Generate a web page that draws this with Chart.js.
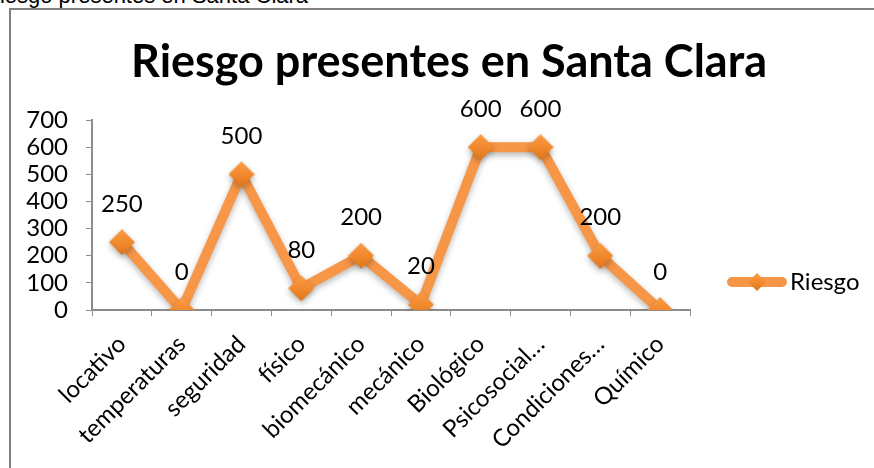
<!DOCTYPE html>
<html>
<head>
<meta charset="utf-8">
<script src="https://cdn.jsdelivr.net/npm/chart.js@4"></script>
<style>
  body { margin: 0; width: 874px; height: 468px; overflow: hidden; background: #fff; position: relative; }
  #caption { position: absolute; left: -16px; top: -15px; font-family: "Liberation Sans", Arial, sans-serif; font-size: 22px; line-height: 22px; white-space: nowrap; color: #000; }
  #frame { position: absolute; left: 9px; top: 8px; width: 900px; height: 500px; border-left: 2px solid #7f7f7f; border-top: 2px solid #7f7f7f; }
  #wrap { position: absolute; left: 11px; top: 10px; }
</style>
</head>
<body>
<div id="caption">Riesgo presentes en Santa Clara</div>
<div id="frame"></div>
<div id="wrap"><canvas id="lchart" width="876" height="458"></canvas></div>
<script>
// risk categories and counts
const categorias = ["locativo", "temperaturas", "seguridad", "físico", "biomecánico",
    "mecánico", "Biológico", "Psicosocial…", "Condiciones…", "Químico"];
const riesgo = [250, 0, 500, 80, 200, 20, 600, 600, 200, 0];
const yTicks = [0, 100, 200, 300, 400, 500, 600, 700];
const titulo = 'Riesgo presentes en Santa Clara';

const naranja = '#F79646';
const fuente = 'Lato, "Open Sans", sans-serif';

// shaded diamond used as the marker
function makeDiamond(r) {
    const c = document.createElement('canvas');
    c.width = c.height = 2 * r;
    const g = c.getContext('2d');
    const grad = g.createLinearGradient(0, 0, 0, 2 * r);
    grad.addColorStop(0, '#FA9C48');
    grad.addColorStop(0.5, '#F28A2E');
    grad.addColorStop(1, '#DD741C');
    g.fillStyle = grad;
    g.beginPath();
    g.moveTo(r, 0);
    g.lineTo(2 * r, r);
    g.lineTo(r, 2 * r);
    g.lineTo(0, r);
    g.closePath();
    g.fill();
    return c;
}
const diamante = makeDiamond(13);
const diamanteChico = makeDiamond(9);

// soft shadow under the line and markers
const sombra = {
    id: 'sombra',
    beforeDatasetsDraw(chart) {
        const ctx = chart.ctx;
        ctx.save();
        ctx.shadowColor = 'rgba(0,0,0,0.28)';
        ctx.shadowBlur = 6;
        ctx.shadowOffsetY = 3;
    },
    afterDatasetsDraw(chart) {
        chart.ctx.restore();
    }
};

// big title centered over the whole canvas (legend column included)
const bigTitle = {
    id: 'bigTitle',
    afterDraw(chart) {
        const ctx = chart.ctx;
        ctx.save();
        ctx.font = 'bold 45px ' + fuente;
        ctx.fillStyle = '#000';
        ctx.textAlign = 'center';
        ctx.textBaseline = 'middle';
        ctx.fillText(titulo, chart.width / 2, 52);
        ctx.restore();
    }
};

// value above every point
const pointLabels = {
    id: 'pointLabels',
    afterDatasetsDraw(chart) {
        const ctx = chart.ctx;
        const meta = chart.getDatasetMeta(0);
        ctx.save();
        ctx.font = '24px ' + fuente;
        ctx.fillStyle = '#000';
        ctx.textAlign = 'center';
        ctx.textBaseline = 'middle';
        meta.data.forEach((pt, i) => {
            ctx.fillText(String(riesgo[i]), pt.x, pt.y - 38);
        });
        ctx.restore();
    }
};

// legend on the right: line + diamond + series name
const lineLegend = {
    id: 'lineLegend',
    afterDraw(chart) {
        const ctx = chart.ctx;
        const x0 = chart.chartArea.right + 37, x1 = x0 + 60, y = 272;
        ctx.save();
        ctx.strokeStyle = naranja;
        ctx.lineWidth = 10;
        ctx.lineCap = 'round';
        ctx.beginPath();
        ctx.moveTo(x0 + 5, y);
        ctx.lineTo(x1 - 5, y);
        ctx.stroke();
        const cx = (x0 + x1) / 2;
        ctx.drawImage(diamanteChico, cx - 9, y - 9);
        ctx.font = '24px ' + fuente;
        ctx.fillStyle = '#000';
        ctx.textBaseline = 'middle';
        ctx.fillText('Riesgo', x1 + 3, y);
        ctx.restore();
    }
};

new Chart(document.getElementById('lchart'), {
    type: 'line',
    data: {
        labels: categorias,
        datasets: [{
            label: 'Riesgo',
            data: riesgo,
            borderColor: naranja,
            borderWidth: 10,
            borderJoinStyle: 'round',
            tension: 0,
            pointStyle: diamante,
            pointRadius: 13
        }]
    },
    options: {
        responsive: false,
        animation: false,
        layout: { padding: { left: 0, right: 197, top: 110, bottom: 0 } },
        plugins: {
            legend: { display: false },
            tooltip: { enabled: false },
            title: { display: false }
        },
        scales: {
            x: {
                offset: true,
                grid: { offset: true, drawOnChartArea: false, tickLength: 6, color: '#8c8c8c' },
                border: { color: '#8c8c8c', width: 2 },
                ticks: {
                    autoSkip: false, maxRotation: 45, minRotation: 45,
                    color: '#000', padding: 14,
                    font: { family: fuente, size: 24 }
                },
                afterFit(scale) { scale.height = 158; }
            },
            y: {
                min: 0, max: 700,
                afterBuildTicks(scale) { scale.ticks = yTicks.map(v => ({ value: v })); },
                grid: { drawOnChartArea: false, tickLength: 6, color: '#8c8c8c' },
                border: { color: '#8c8c8c', width: 2 },
                ticks: {
                    autoSkip: false,
                    color: '#000', padding: 18,
                    font: { family: fuente, size: 24 }
                },
                afterFit(scale) { scale.width = 81; }
            }
        }
    },
    plugins: [sombra, bigTitle, pointLabels, lineLegend]
});
</script>
</body>
</html>
